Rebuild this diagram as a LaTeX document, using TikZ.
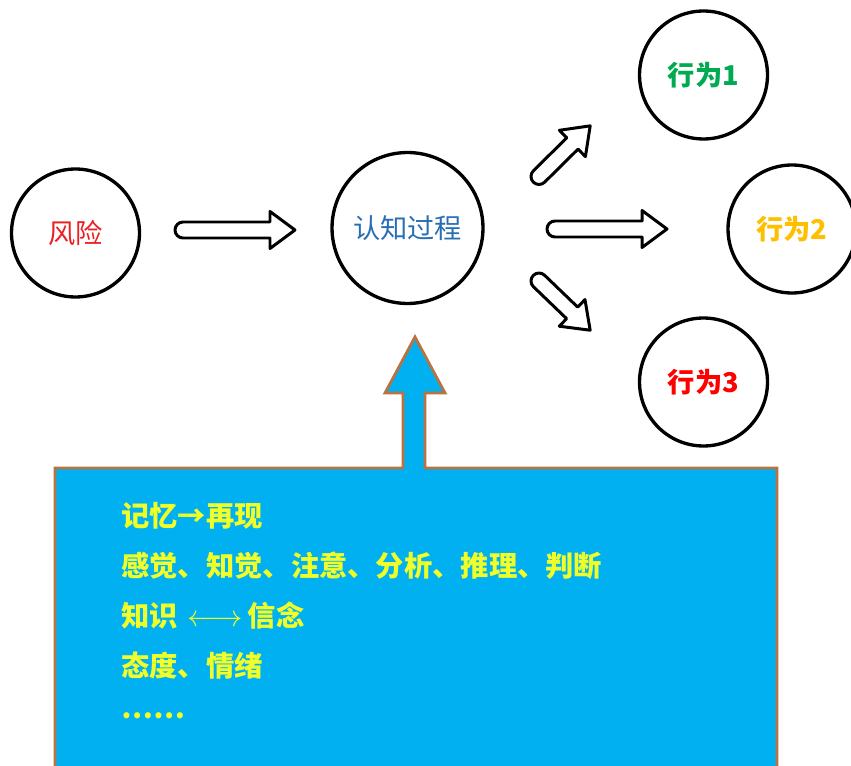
\documentclass[tikz,border=0pt]{standalone}
\usepackage{fontspec}
\usepackage{xcolor}
\usepackage{tikz}
\usetikzlibrary{calc}
\usetikzlibrary{positioning}
\newfontfamily\cjk{Noto Sans CJK SC}

\definecolor{boxblue}{RGB}{0,176,240}
\definecolor{boxedge}{RGB}{185,115,65}
\definecolor{txtyellow}{RGB}{240,255,40}
\definecolor{riskred}{RGB}{235,30,35}
\definecolor{procblue}{RGB}{40,110,180}
\definecolor{actgreen}{RGB}{0,170,80}
\definecolor{actorange}{RGB}{255,190,0}

% hollow block arrow: tail point, angle, length
\newcommand{\hollowarrow}[3]{%
  \begin{scope}[shift={(#1)}, rotate=#2]
    \draw[hollow] (0,8) -- ({#3-25},8) -- ({#3-25},18.5) -- (#3,0)
      -- ({#3-25},-18.5) -- ({#3-25},-8) -- (0,-8)
      arc[start angle=270, end angle=90, radius=8] -- cycle;
  \end{scope}}

\begin{document}
\begin{tikzpicture}[x=0.02cm, y=0.02cm,
    bubble/.style={circle, draw=black, line width=1.9pt, minimum size=2.56cm,
      inner sep=0pt, font=\cjk\fontsize{15.5pt}{18pt}\selectfont},
    hollow/.style={draw=black, fill=white, line width=1.7pt, line join=round},
    item/.style={anchor=west, inner sep=0pt, text=txtyellow,
      font=\cjk\bfseries\fontsize{16.1pt}{18pt}\selectfont}]
    \useasboundingbox (0,0) rectangle (851,-766);

    \node[bubble, text=riskred] (risk) at (75.5,-233) {风险};
    \node[bubble, minimum size=3.02cm, text=procblue] (proc) at (407.5,-228) {认知过程};
    \node[bubble, text=actgreen, font=\cjk\bfseries\fontsize{15.5pt}{18pt}\selectfont] (act1) at (703.5,-75) {行为1};
    \node[bubble, text=actorange, font=\cjk\bfseries\fontsize{15.5pt}{18pt}\selectfont] (act2) at (792,-229) {行为2};
    \node[bubble, text=red, font=\cjk\bfseries\fontsize{15.5pt}{18pt}\selectfont] (act3) at (703.5,-382) {行为3};

    \coordinate (tail1) at (183,-230);
    \coordinate (tail2) at (555,-229);
    \coordinate (tail3) at (539,-176.5);
    \coordinate (tail4) at (539,-281);
    \hollowarrow{tail1}{0}{112}
    \hollowarrow{tail2}{0}{112}
    \hollowarrow{tail3}{44.7}{72}
    \hollowarrow{tail4}{-43.9}{71}

    %\draw[boxedge] (proc) -- (415,-468);
    \draw[fill=boxblue, draw=boxedge, line width=1.6pt, line join=miter]
      (55,-800) -- (55,-468) -- (403,-468) -- (403,-393) -- (385,-393)
      -- (415,-337) -- (445,-393) -- (425,-393) -- (425,-468)
      -- (777,-468) -- (777,-800);

    \node[item] (mem) at (121,-516) {记忆→再现};
    \node[item] (sense) at (121,-566) {感觉、知觉、注意、分析、推理、判断};
    \node[item] (know) at (121,-616) {知识\,\,$\longleftrightarrow$\,信念};
    \node[item] (mood) at (121,-666) {态度、情绪};
    \node[item] (etc) at (121,-716) {……};
\end{tikzpicture}
\end{document}
